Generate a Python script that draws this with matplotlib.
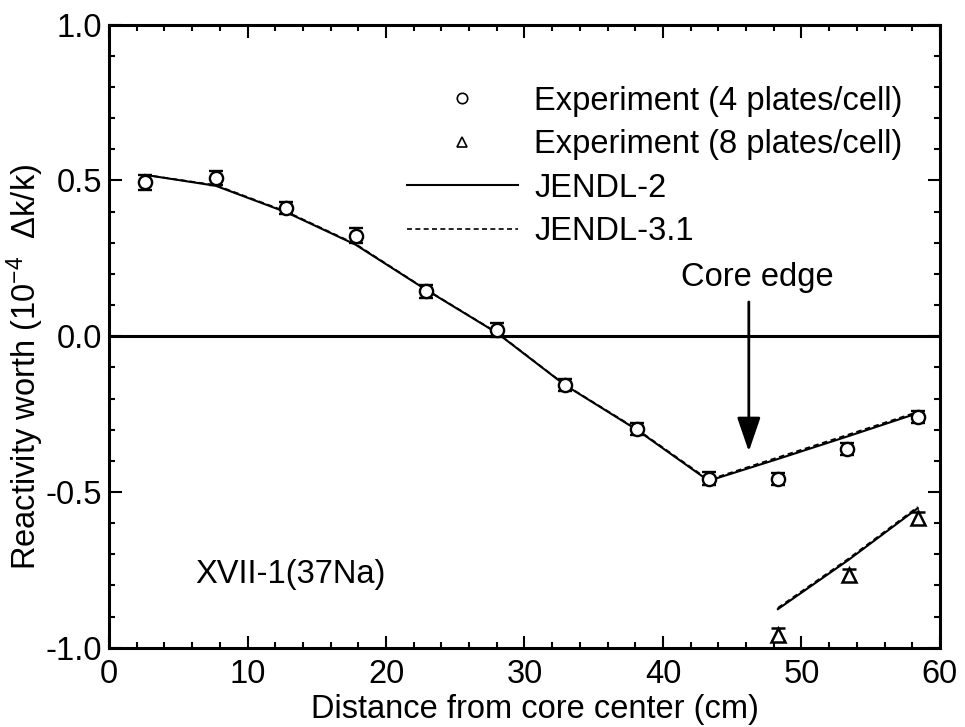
import matplotlib
matplotlib.use("Agg")
import matplotlib.pyplot as plt
from matplotlib.lines import Line2D
from matplotlib.ticker import MultipleLocator

plt.rcParams['font.family'] = ['Liberation Sans', 'DejaVu Sans']
plt.rcParams['mathtext.fontset'] = 'custom'
plt.rcParams['mathtext.rm'] = 'Liberation Sans'
plt.rcParams['mathtext.it'] = 'Liberation Sans:italic'
plt.rcParams['axes.unicode_minus'] = False

# Sodium void worth traverse, 4 plates/cell loading
x_4 = [2.6, 7.7, 12.8, 17.8, 22.9, 28.0, 32.9, 38.1, 43.3, 48.3, 53.3, 58.4]
exp_4 = [0.494, 0.508, 0.411, 0.323, 0.144, 0.021, -0.156, -0.297, -0.457, -0.458, -0.362, -0.259]
err_4 = [0.024, 0.022, 0.020, 0.024, 0.020, 0.022, 0.020, 0.020, 0.020, 0.020, 0.020, 0.020]
jendl2_4 = [0.518, 0.483, 0.398, 0.294, 0.149, 0.011, -0.156, -0.300, -0.464, -0.394, -0.322, -0.247]
jendl31_4 = [0.518, 0.485, 0.400, 0.296, 0.150, 0.012, -0.155, -0.298, -0.461, -0.389, -0.317, -0.243]

# 8 plates/cell loading (outer positions)
x_8 = [48.3, 53.4, 58.4]
exp_8 = [-0.958, -0.766, -0.584]
err_8 = [0.020, 0.020, 0.020]
jendl2_8 = [-0.876, -0.718, -0.552]
jendl31_8 = [-0.872, -0.714, -0.548]

core_edge_x = 46.2

fig = plt.figure(figsize=(9.65, 7.27), dpi=100)
ax = fig.add_axes([0.113, 0.109, 0.861, 0.857])

FS = 23.5
ax.axhline(0.0, color='black', lw=2.2, zorder=1)

ax.plot(x_4, jendl2_4, color='black', lw=1.5, zorder=2)
ax.plot(x_4, jendl31_4, color='black', lw=1.3, ls=(0, (3, 2)), zorder=2)
ax.plot(x_8, jendl2_8, color='black', lw=1.5, zorder=2)
ax.plot(x_8, jendl31_8, color='black', lw=1.3, ls=(0, (3, 2)), zorder=2)

ax.errorbar(x_4, exp_4, yerr=err_4, fmt='o', ms=9.5, mfc='white', mec='black',
            mew=1.7, ecolor='black', elinewidth=1.5, capsize=5, capthick=1.8, zorder=3)
ax.errorbar(x_8, exp_8, yerr=err_8, fmt='^', ms=9.5, mfc='white', mec='black',
            mew=1.8, ecolor='black', elinewidth=1.5, capsize=5, capthick=1.8, zorder=3)

ax.annotate('', xy=(core_edge_x, -0.37), xytext=(core_edge_x, 0.11),
            arrowprops=dict(arrowstyle='-|>,head_length=0.7,head_width=0.24',
                            color='black', lw=2.0, mutation_scale=30,
                            shrinkA=0, shrinkB=0))
ax.text(46.8, 0.19, 'Core edge', fontsize=FS, ha='center', va='center')
ax.text(6.2, -0.765, 'XVII-1(37Na)', fontsize=FS, ha='left', va='center')

ax.set_xlim(0, 60)
ax.set_ylim(-1.0, 1.0)
ax.xaxis.set_major_locator(MultipleLocator(10))
ax.xaxis.set_minor_locator(MultipleLocator(2))
ax.yaxis.set_minor_locator(MultipleLocator(0.1))
ax.set_yticks([-1.0, -0.5, 0.0, 0.5, 1.0])
ax.set_yticklabels(['-1.0', '-0.5', '0.0', '0.5', '1.0'])

ax.tick_params(which='both', direction='in', top=True, right=True, width=1.5,
               labelsize=FS)
ax.tick_params(which='major', length=9)
ax.tick_params(which='minor', length=4.5)
ax.tick_params(axis='x', which='major', pad=8)
ax.tick_params(axis='y', which='major', pad=5)
for s in ax.spines.values():
    s.set_linewidth(2.2)

ax.set_xlabel('Distance from core center (cm)', fontsize=FS)
ax.xaxis.set_label_coords(0.513, -0.075)
ax.text(-0.101, 0.451, 'Reactivity worth (10$^{-4}$  $\\Delta$k/k)', fontsize=FS,
        rotation=90, ha='center', va='center', transform=ax.transAxes)

handles = [
    Line2D([], [], ls='none', marker='o', ms=7.5, mfc='white', mec='black', mew=1.2),
    Line2D([], [], ls='none', marker='^', ms=7.5, mfc='white', mec='black', mew=1.2),
    Line2D([], [], color='black', lw=1.5),
    Line2D([], [], color='black', lw=1.2, ls=(0, (3, 2))),
]
labels = ['Experiment (4 plates/cell)', 'Experiment (8 plates/cell)',
          'JENDL-2', 'JENDL-3.1']
ax.legend(handles, labels, loc='upper left', bbox_to_anchor=(0.3586, 0.902),
          frameon=False, fontsize=FS, handlelength=3.4, handletextpad=0.5,
          labelspacing=0.38, borderpad=0, borderaxespad=0)

fig.savefig('out.png', dpi=100)
